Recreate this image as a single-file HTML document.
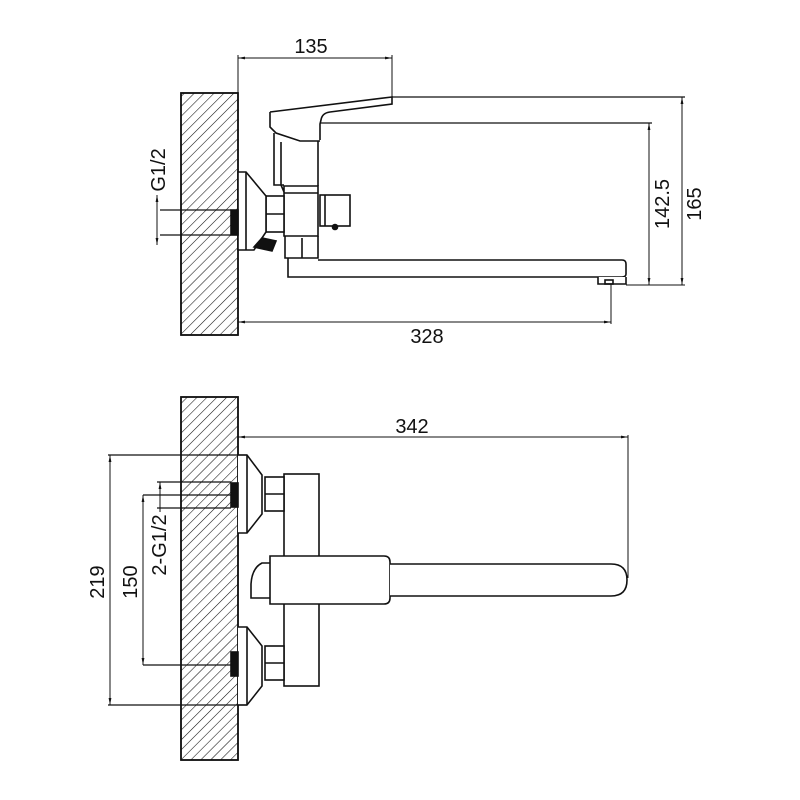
<!DOCTYPE html>
<html><head><style>html,body{margin:0;padding:0;background:#fff}svg{display:block}</style></head>
<body>
<svg width="800" height="800" viewBox="0 0 800 800" xmlns="http://www.w3.org/2000/svg" font-family="Liberation Sans, sans-serif">
<defs>
<pattern id="h" patternUnits="userSpaceOnUse" width="7" height="7" patternTransform="rotate(45)">
<line x1="0" y1="0" x2="0" y2="7" stroke="#111" stroke-width="1.1"/>
</pattern>
<marker id="a" viewBox="0 0 10 10" refX="10" refY="5" markerWidth="7" markerHeight="7" orient="auto-start-reverse"><path d="M0,3 L10,5 L0,7z" fill="#111"/></marker>
</defs>
<g stroke="#111" stroke-width="1.6" fill="none">
<!-- TOP VIEW -->
<rect x="181" y="93" width="57" height="242" fill="url(#h)"/>
<rect x="181" y="93" width="57" height="242"/>
<line x1="238" y1="55" x2="238" y2="93" stroke-width="1"/>
<line x1="392" y1="55" x2="392" y2="97" stroke-width="1"/>
<line x1="238" y1="58" x2="392" y2="58" stroke-width="1" marker-start="url(#a)" marker-end="url(#a)"/>
<path d="M270,112 L392,97 L392,104 L330,112 Q322,113 321,120 L320,124 L320,140 M270,112 L270,127 L276,133 L300,141 L320,141" fill="#fff"/>
<line x1="320" y1="123" x2="652" y2="123" stroke-width="1.2"/>
<line x1="392" y1="97" x2="685" y2="97" stroke-width="1.2"/>
<path d="M274,133 L274,185 L284,185 M281,142 L281,185 L284,192 M284,186 L318,186 L318,236 L284,236 Z" />
<line x1="284" y1="193" x2="318" y2="193"/>
<line x1="318" y1="141" x2="318" y2="186"/>
<rect x="266" y="196" width="18" height="36" fill="#fff"/>
<line x1="266" y1="214" x2="284" y2="214"/>
<path d="M238,172 L246,172 L266,196 L266,232 L254,250 L238,250 Z" fill="#fff"/>
<line x1="246" y1="172" x2="246" y2="250"/>
<path d="M254,247 L262,238 L276,241 L272,251 Z" fill="#111"/>
<rect x="320" y="195" width="30" height="31" fill="#fff"/>
<line x1="325" y1="195" x2="325" y2="226"/>
<circle cx="335" cy="227" r="2.5" fill="#111"/>
<path d="M285,236 L285,258 L318,258 L318,236 M302,238 L302,258"/>
<path d="M318,260 L622,260 Q626,260 626,264 L626,274 Q626,277 622,277 L598,277 M598,277 L288,277 L288,258"/>
<path d="M598,277 L598,284 L626,284 L626,277" fill="#fff"/>
<rect x="605" y="280" width="8" height="4"/>
<rect x="231" y="210" width="7" height="25" fill="#111"/>
<line x1="160" y1="210" x2="231" y2="210" stroke-width="1.2"/>
<line x1="160" y1="235" x2="231" y2="235" stroke-width="1.2"/>
<line x1="157" y1="195" x2="157" y2="245" stroke-width="1" marker-start="url(#a)" marker-end="url(#a)"/>
<line x1="611" y1="284" x2="611" y2="324" stroke-width="1"/>
<line x1="238" y1="322" x2="611" y2="322" stroke-width="1" marker-start="url(#a)" marker-end="url(#a)"/>
<line x1="626" y1="285" x2="685" y2="285" stroke-width="1"/>
<line x1="649" y1="123" x2="649" y2="285" stroke-width="1" marker-start="url(#a)" marker-end="url(#a)"/>
<line x1="682" y1="97" x2="682" y2="285" stroke-width="1" marker-start="url(#a)" marker-end="url(#a)"/>

<!-- BOTTOM VIEW -->
<rect x="181" y="397" width="57" height="363" fill="url(#h)"/>
<rect x="181" y="397" width="57" height="363"/>
<line x1="238" y1="437" x2="628" y2="437" stroke-width="1" marker-start="url(#a)" marker-end="url(#a)"/>
<line x1="628" y1="435" x2="628" y2="578" stroke-width="1"/>
<rect x="284" y="474" width="35" height="212" fill="#fff"/>
<path d="M238,455 L247,455 L262,475 L262,514 L247,533 L238,533" fill="#fff"/>
<line x1="247" y1="455" x2="247" y2="533"/>
<rect x="265" y="477" width="19" height="34" fill="#fff"/>
<line x1="265" y1="494" x2="284" y2="494"/>
<path d="M238,627 L247,627 L262,646 L262,686 L247,705 L238,705" fill="#fff"/>
<line x1="247" y1="627" x2="247" y2="705"/>
<rect x="265" y="646" width="19" height="34" fill="#fff"/>
<line x1="265" y1="663" x2="284" y2="663"/>
<path d="M270,563 L262,563 Q252,568 251,584 L251,598 L270,598" fill="#fff"/>
<path d="M270,556 L384,556 Q390,556 390,562 L390,598 Q390,604 384,604 L270,604 Z" fill="#fff"/>
<path d="M390,564 L611,564 Q627,564 627,580 Q627,596 611,596 L390,596" fill="#fff"/>
<rect x="231" y="483" width="7" height="24" fill="#111"/>
<rect x="231" y="652" width="7" height="24" fill="#111"/>
<line x1="157" y1="482" x2="231" y2="482" stroke-width="1.2"/>
<line x1="157" y1="508" x2="231" y2="508" stroke-width="1.2"/>
<line x1="143" y1="495" x2="231" y2="495" stroke-width="1.2"/>
<line x1="143" y1="665" x2="231" y2="665" stroke-width="1.2"/>
<line x1="108" y1="455" x2="247" y2="455" stroke-width="1.2"/>
<line x1="108" y1="705" x2="247" y2="705" stroke-width="1.2"/>
<line x1="110" y1="455" x2="110" y2="705" stroke-width="1" marker-start="url(#a)" marker-end="url(#a)"/>
<line x1="143" y1="495" x2="143" y2="665" stroke-width="1" marker-start="url(#a)" marker-end="url(#a)"/>
<line x1="160" y1="482" x2="160" y2="512" stroke-width="1" marker-start="url(#a)"/>
</g>
<g fill="#111" font-size="20">
<text x="311" y="53" text-anchor="middle">135</text>
<text x="427" y="343" text-anchor="middle">328</text>
<text x="412" y="433" text-anchor="middle">342</text>
<text transform="translate(669,204) rotate(-90)" text-anchor="middle">142.5</text>
<text transform="translate(701,204) rotate(-90)" text-anchor="middle">165</text>
<text transform="translate(165,170) rotate(-90)" text-anchor="middle">G1/2</text>
<text transform="translate(104,582) rotate(-90)" text-anchor="middle">219</text>
<text transform="translate(137,582) rotate(-90)" text-anchor="middle">150</text>
<text transform="translate(166,545) rotate(-90)" text-anchor="middle">2-G1/2</text>
</g>
</svg>
</body></html>
